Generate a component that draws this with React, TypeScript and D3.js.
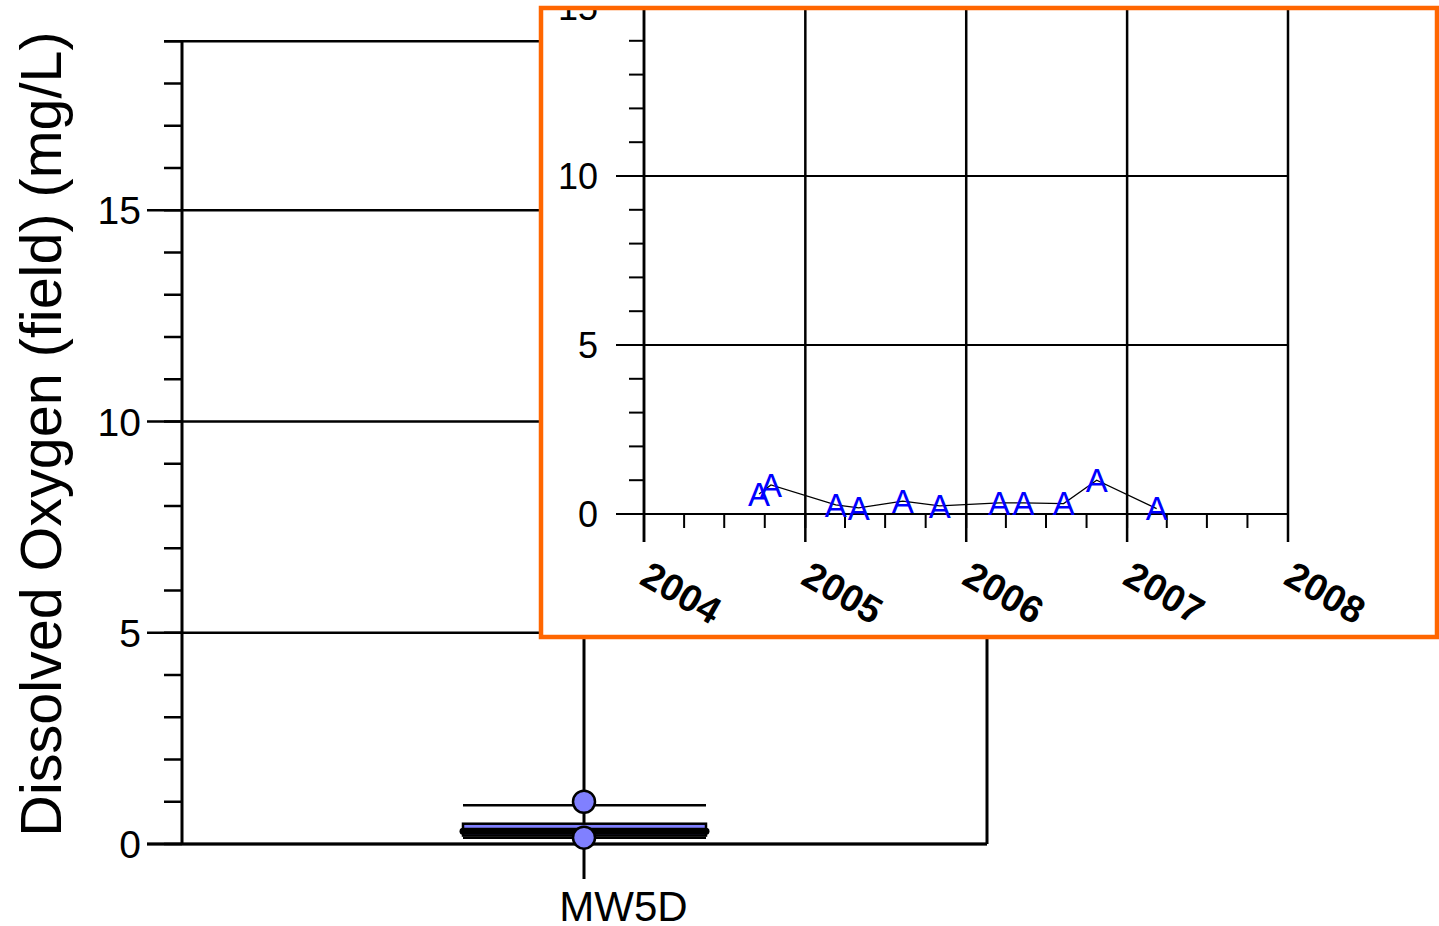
import React from "react";
import * as d3 from "d3";

// ---------- data ----------
const category = ["MW5D"];
const boxQ1 = [0.2];
const boxQ3 = [0.48];
const boxMedian = [0.3];
const whiskerLow = [0.15];
const whiskerHigh = [0.92];
const outlierValues = [1.0, 0.15];

const sampleDates = [
  "2004-09-18", "2004-10-15", "2005-03-11", "2005-05-02", "2005-08-10", "2005-11-02",
  "2006-03-17", "2006-05-11", "2006-08-10", "2006-10-24", "2007-03-09",
];
const sampleValues = [0.59, 0.86, 0.27, 0.18, 0.38, 0.24, 0.33, 0.33, 0.31, 1.0, 0.16];

const mainMajorTicks = [0, 5, 10, 15];
const insetMajorTicks = [0, 5, 10, 15];
const yearTicks = [2004, 2005, 2006, 2007, 2008];

const FONT = "Liberation Sans, Arial, sans-serif";

export default function App() {
  // main chart scales
  const yMain = d3.scaleLinear().domain([0, 19]).range([844, 41.25]);
  const xMain = d3.scaleBand().domain(category).range([182, 987]).padding(0);
  const minorMain = d3.range(0, 20, 1);

  // inset scales
  const xIn = d3
    .scaleTime()
    .domain([new Date(2004, 0, 1), new Date(2008, 0, 1)])
    .range([644, 1288]);
  const yIn = d3.scaleLinear().domain([0, 15]).range([514, 7]);
  const minorIn = d3.range(0, 20, 1);
  const quarterTicks = xIn.ticks(d3.timeMonth.every(3));
  const parse = d3.timeParse("%Y-%m-%d");
  const pts = sampleDates.map((d, i) => ({ x: xIn(parse(d)!), y: yIn(sampleValues[i]) }));
  const line = d3
    .line<{ x: number; y: number }>()
    .x((d) => d.x)
    .y((d) => d.y);

  const cx = 584;
  const boxL = 463;
  const boxR = 706;

  return (
    <svg
      width={1439}
      height={926}
      style={{ position: "absolute", left: 0, top: 0, background: "#fff" }}
      fontFamily={FONT}
    >
      <defs>
        <clipPath id="insetClip">
          <rect x={543} y={10} width={894} height={625} />
        </clipPath>
      </defs>

      {/* ---------- main box plot ---------- */}
      <g>
        {mainMajorTicks.map((t) => (
          <line key={"g" + t} x1={147} x2={987} y1={yMain(t)} y2={yMain(t)} stroke="#000" strokeWidth={2.5} />
        ))}
        {minorMain.map((t) => (
          <line key={"m" + t} x1={164} x2={182} y1={yMain(t)} y2={yMain(t)} stroke="#000" strokeWidth={2.5} />
        ))}
        <line x1={164} x2={987} y1={yMain(19)} y2={yMain(19)} stroke="#000" strokeWidth={2.5} />
        <line x1={182} x2={182} y1={yMain(19)} y2={yMain(0)} stroke="#000" strokeWidth={3} />
        <line x1={987} x2={987} y1={yMain(19)} y2={yMain(0)} stroke="#000" strokeWidth={3} />
        <line x1={147} x2={987} y1={yMain(0)} y2={yMain(0)} stroke="#000" strokeWidth={3} />
        {mainMajorTicks.map((t) => (
          <text key={"l" + t} x={141} y={yMain(t)} dy="0.36em" fontSize={39} textAnchor="end" fill="#000">
            {t}
          </text>
        ))}
        <text transform={`translate(61,434) rotate(-90)`} fontSize={57.5} textAnchor="middle" fill="#000">
          Dissolved Oxygen (field) (mg/L)
        </text>

        <line x1={cx} x2={cx} y1={yMain(19)} y2={879} stroke="#000" strokeWidth={3} />
        <text x={623.5} y={921} fontSize={42} textAnchor="middle" fill="#000">
          {category[0]}
        </text>

        <line x1={boxL} x2={boxR} y1={yMain(whiskerHigh[0])} y2={yMain(whiskerHigh[0])} stroke="#000" strokeWidth={2.5} />
        <line x1={boxL} x2={boxR} y1={yMain(whiskerLow[0])} y2={yMain(whiskerLow[0])} stroke="#000" strokeWidth={2.5} />
        <rect
          x={boxL}
          y={yMain(boxQ3[0])}
          width={boxR - boxL}
          height={yMain(boxQ1[0]) - yMain(boxQ3[0])}
          fill="#8080ff"
          stroke="#000"
          strokeWidth={2.5}
        />
        <line
          x1={boxL}
          x2={boxR}
          y1={yMain(boxMedian[0])}
          y2={yMain(boxMedian[0])}
          stroke="#000"
          strokeWidth={7}
          strokeLinecap="round"
        />
        {outlierValues.map((v, i) => (
          <circle key={"o" + i} cx={cx} cy={yMain(v)} r={11} fill="#8080ff" stroke="#000" strokeWidth={2.5} />
        ))}
      </g>

      {/* ---------- inset time-series ---------- */}
      <rect x={541} y={8} width={896} height={629} fill="#fff" stroke="none" />
      <g clipPath="url(#insetClip)">
        {insetMajorTicks.map((t) => (
          <line key={"ig" + t} x1={616} x2={1288} y1={yIn(t)} y2={yIn(t)} stroke="#000" strokeWidth={2} />
        ))}
        {minorIn.map((t) => (
          <line key={"im" + t} x1={629} x2={644} y1={yIn(t)} y2={yIn(t)} stroke="#000" strokeWidth={2} />
        ))}
        <line x1={644} x2={644} y1={0} y2={542} stroke="#000" strokeWidth={2.5} />
        {yearTicks.map((yr) => (
          <line
            key={"yg" + yr}
            x1={xIn(new Date(yr, 0, 1))}
            x2={xIn(new Date(yr, 0, 1))}
            y1={0}
            y2={542}
            stroke="#000"
            strokeWidth={2.5}
          />
        ))}
        {quarterTicks.map((d, i) => (
          <line key={"q" + i} x1={xIn(d)} x2={xIn(d)} y1={514} y2={528} stroke="#000" strokeWidth={2} />
        ))}
        {insetMajorTicks.map((t) => (
          <text key={"il" + t} x={598} y={yIn(t)} dy="0.36em" fontSize={36} textAnchor="end" fill="#000">
            {t}
          </text>
        ))}
        {yearTicks.map((yr) => (
          <text
            key={"yl" + yr}
            transform={`translate(${xIn(new Date(yr, 0, 1)) - 6},583) rotate(30)`}
            fontSize={38}
            fontWeight="bold"
            fill="#000"
          >
            {yr}
          </text>
        ))}
        <path d={line(pts) || ""} fill="none" stroke="#000" strokeWidth={1.2} />
        {pts.map((p, i) => (
          <text key={"a" + i} x={p.x} y={p.y} dy={11.8} fontSize={33} textAnchor="middle" fill="#0000ff">
            A
          </text>
        ))}
      </g>
      <rect x={541} y={8} width={896} height={629} fill="none" stroke="#ff6600" strokeWidth={4.5} />
    </svg>
  );
}
